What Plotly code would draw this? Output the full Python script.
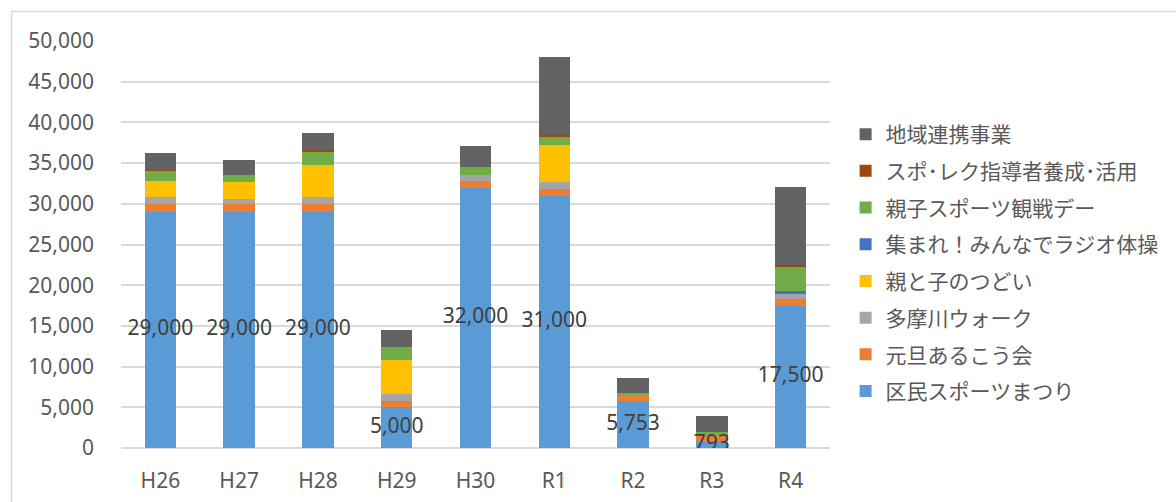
import plotly.graph_objects as go

# Fiscal years shown on the x axis
years = ["H26", "H27", "H28", "H29", "H30", "R1", "R2", "R3", "R4"]

# Participants per event, stacked bottom to top
kumin_sports = [29000, 29000, 29000, 5000, 32000, 31000, 5753, 793, 17500]
gantan_arukou = [1000, 1000, 1000, 800, 800, 800, 750, 800, 850]
tamagawa_walk = [800, 650, 800, 800, 800, 900, 0, 0, 550]
oyako_tsudoi = [2000, 2000, 4000, 4200, 0, 4500, 0, 0, 0]
radio_taiso = [0, 0, 0, 0, 0, 0, 0, 0, 400]
oyako_kansen = [1300, 900, 1650, 1600, 950, 1100, 250, 350, 3050]
sporec_shido = [100, 0, 100, 0, 0, 100, 0, 0, 100]
chiiki_renkei = [2050, 1800, 2150, 2100, 2550, 9650, 1850, 2050, 9650]

y_ticks = [0, 5000, 10000, 15000, 20000, 25000, 30000, 35000, 40000, 45000, 50000]

series = [
    ("区民スポーツまつり", kumin_sports, "#5B9BD5"),
    ("元旦あるこう会", gantan_arukou, "#ED7D31"),
    ("多摩川ウォーク", tamagawa_walk, "#A5A5A5"),
    ("親と子のつどい", oyako_tsudoi, "#FFC000"),
    ("集まれ！みんなでラジオ体操", radio_taiso, "#4472C4"),
    ("親子スポーツ観戦デー", oyako_kansen, "#70AD47"),
    ("スポ･レク指導者養成･活用", sporec_shido, "#9E480E"),
    ("地域連携事業", chiiki_renkei, "#636363"),
]

NUM_FONT = "Noto Sans, Noto Sans CJK JP, sans-serif"
JP_FONT = "Noto Sans CJK JP, Noto Sans, sans-serif"

fig = go.Figure()
n = len(series)
for i, (name, vals, color) in enumerate(series):
    fig.add_trace(go.Bar(
        x=years, y=vals, name=name, legendgroup=name,
        legendrank=n - i,
        marker=dict(color=color, line=dict(width=0)),
    ))

# Value labels for the base series, centred in its segment and kept above every bar
fig.add_trace(go.Scatter(
    x=years, y=[v / 2 for v in kumin_sports],
    mode="text", text=[f"{v:,}" for v in kumin_sports],
    textposition="middle center",
    textfont=dict(family=NUM_FONT, size=21, color="#404040"),
    showlegend=False, hoverinfo="skip",
))

fig.update_layout(
    width=1176, height=502,
    margin=dict(l=121, r=339, t=41, b=54),
    barmode="stack", bargap=0.6,
    paper_bgcolor="white", plot_bgcolor="white",
    font=dict(family=NUM_FONT, size=21, color="#595959"),
    legend=dict(
        x=1.022, xanchor="left", y=0.8206, yanchor="top",
        traceorder="grouped", tracegroupgap=6.4,
        font=dict(family=JP_FONT, size=21, color="#595959"),
        bgcolor="rgba(0,0,0,0)",
    ),
    showlegend=True,
)
fig.update_xaxes(
    showgrid=False, showline=False, ticks="", ticklabelstandoff=18,
    automargin=False,
    tickfont=dict(family=NUM_FONT, size=21, color="#595959"),
)
fig.update_yaxes(
    range=[0, 50000], tickvals=y_ticks, tickformat=",",
    showgrid=True, gridcolor="#D9D9D9", gridwidth=1.5,
    zeroline=True, zerolinecolor="#D9D9D9", zerolinewidth=1.5,
    showline=False, ticks="", ticklabelstandoff=26,
    automargin=False,
    tickfont=dict(family=NUM_FONT, size=21, color="#595959"),
)

# Chart-area frame
fig.add_shape(
    type="rect", xref="paper", yref="paper",
    x0=(10.5 - 121) / 716, x1=1.7, y0=-0.3, y1=(448 - 11.5) / 407,
    line=dict(color="#D9D9D9", width=1.5), fillcolor="rgba(0,0,0,0)",
)

fig.write_html("out.html")
